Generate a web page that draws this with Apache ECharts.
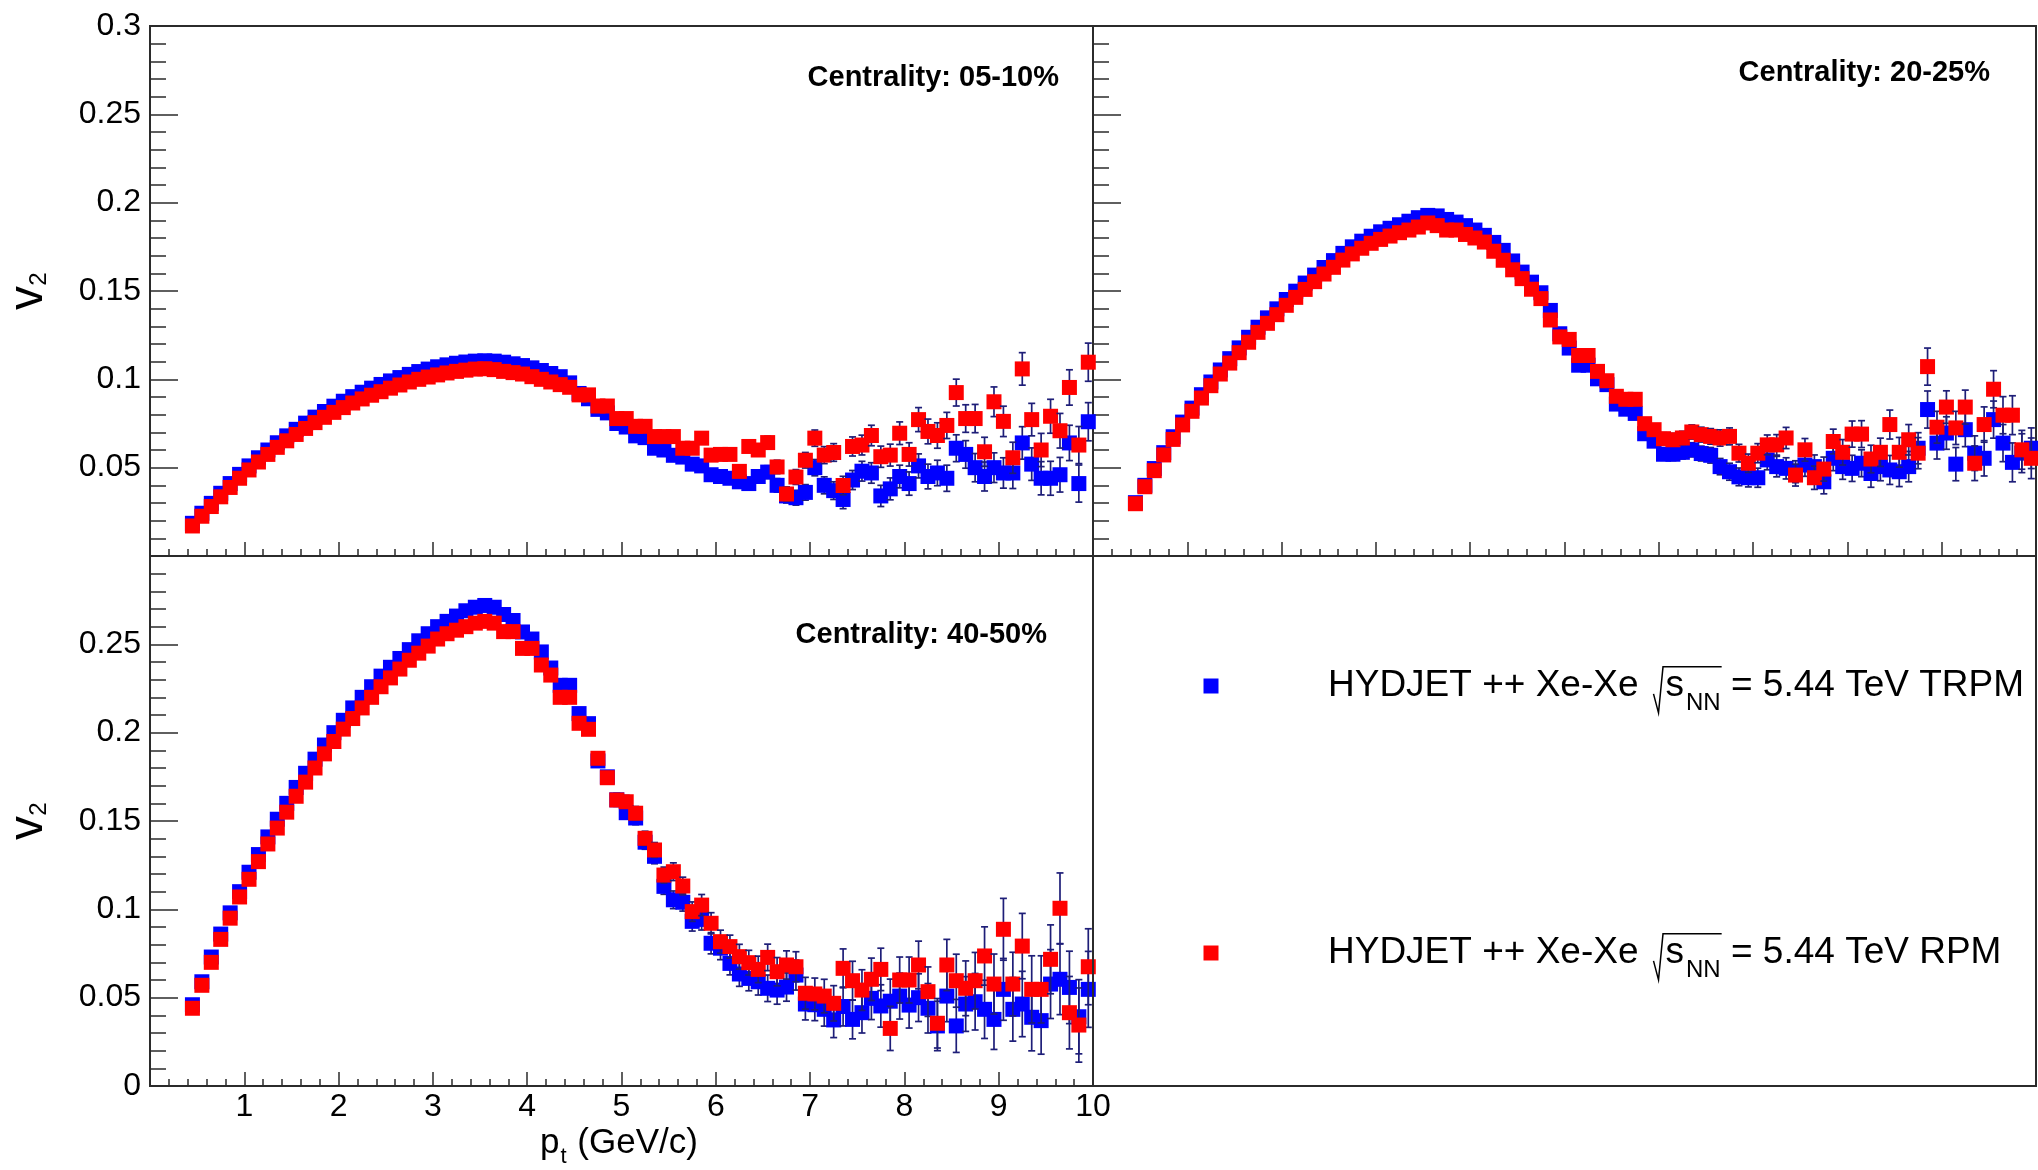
<!DOCTYPE html>
<html>
<head>
<meta charset="utf-8">
<script src="https://cdn.jsdelivr.net/npm/echarts/dist/echarts.min.js"></script>
<style>
  html, body { margin: 0; padding: 0; background: #ffffff; }
  #chart { width: 2038px; height: 1170px; }
</style>
</head>
<body>
<div id="chart"></div>
<script>
// pT bin centres (GeV/c)
const pt = [
  0.45, 0.55, 0.65, 0.75, 0.85, 0.95, 1.05, 1.15, 1.25, 1.35,
  1.45, 1.55, 1.65, 1.75, 1.85, 1.95, 2.05, 2.15, 2.25, 2.35,
  2.45, 2.55, 2.65, 2.75, 2.85, 2.95, 3.05, 3.15, 3.25, 3.35,
  3.45, 3.55, 3.65, 3.75, 3.85, 3.95, 4.05, 4.15, 4.25, 4.35,
  4.45, 4.55, 4.65, 4.75, 4.85, 4.95, 5.05, 5.15, 5.25, 5.35,
  5.45, 5.55, 5.65, 5.75, 5.85, 5.95, 6.05, 6.15, 6.25, 6.35,
  6.45, 6.55, 6.65, 6.75, 6.85, 6.95, 7.05, 7.15, 7.25, 7.35,
  7.45, 7.55, 7.65, 7.75, 7.85, 7.95, 8.05, 8.15, 8.25, 8.35,
  8.45, 8.55, 8.65, 8.75, 8.85, 8.95, 9.05, 9.15, 9.25, 9.35,
  9.45, 9.55, 9.65, 9.75, 9.85, 9.95
];

// Centrality 05-10%
const v2_c0510_trpm = [
  0.0185, 0.0242, 0.0298, 0.0355, 0.0410, 0.0462, 0.0510, 0.0556, 0.0600, 0.0641,
  0.0680, 0.0717, 0.0752, 0.0786, 0.0818, 0.0848, 0.0876, 0.0902, 0.0927, 0.0950,
  0.0971, 0.0991, 0.1010, 0.1028, 0.1044, 0.1058, 0.1071, 0.1082, 0.1091, 0.1098,
  0.1103, 0.1105, 0.1103, 0.1097, 0.1088, 0.1078, 0.1065, 0.1050, 0.1033, 0.1015,
  0.0980, 0.0920, 0.0890, 0.0830, 0.0810, 0.0750, 0.0730, 0.0680, 0.0670, 0.0610,
  0.0600, 0.0570, 0.0560, 0.0520, 0.0510, 0.0460, 0.0450, 0.0440, 0.0420, 0.0410,
  0.0450, 0.0475, 0.0400, 0.0340, 0.0330, 0.0360, 0.0500, 0.0400, 0.0370, 0.0320,
  0.0430, 0.0480, 0.0470, 0.0340, 0.0380, 0.0450, 0.0410, 0.0510, 0.0450, 0.0470,
  0.0440, 0.0610, 0.0575, 0.0500, 0.0450, 0.0500, 0.0470, 0.0470, 0.0640, 0.0520,
  0.0440, 0.0440, 0.0460, 0.0640, 0.0410, 0.0760
];
const v2_c0510_rpm = [
  0.0170, 0.0225, 0.0280, 0.0335, 0.0388, 0.0440, 0.0487, 0.0532, 0.0575, 0.0615,
  0.0652, 0.0688, 0.0722, 0.0755, 0.0785, 0.0813, 0.0840, 0.0866, 0.0889, 0.0910,
  0.0930, 0.0950, 0.0968, 0.0985, 0.1000, 0.1013, 0.1025, 0.1036, 0.1045, 0.1052,
  0.1058, 0.1060, 0.1055, 0.1045, 0.1038, 0.1030, 0.1015, 0.1000, 0.0985, 0.0970,
  0.0955, 0.0912, 0.0912, 0.0849, 0.0849, 0.0778, 0.0778, 0.0734, 0.0734, 0.0676,
  0.0676, 0.0676, 0.0610, 0.0610, 0.0667, 0.0571, 0.0575, 0.0575, 0.0479, 0.0620,
  0.0600, 0.0642, 0.0504, 0.0351, 0.0447, 0.0542, 0.0667, 0.0571, 0.0586, 0.0399,
  0.0620, 0.0628, 0.0682, 0.0562, 0.0571, 0.0695, 0.0575, 0.0772, 0.0705, 0.0682,
  0.0739, 0.0925, 0.0778, 0.0778, 0.0590, 0.0873, 0.0762, 0.0556, 0.1059, 0.0772,
  0.0600, 0.0791, 0.0709, 0.0954, 0.0628, 0.1097
];
const err_c0510 = [
  0.0006, 0.0006, 0.0006, 0.0006, 0.0006, 0.0006, 0.0006, 0.0006, 0.0006, 0.0006,
  0.0008, 0.0008, 0.0008, 0.0008, 0.0008, 0.0008, 0.0008, 0.0008, 0.0008, 0.0008,
  0.0010, 0.0010, 0.0010, 0.0010, 0.0010, 0.0010, 0.0010, 0.0010, 0.0010, 0.0010,
  0.0012, 0.0012, 0.0012, 0.0012, 0.0012, 0.0012, 0.0012, 0.0012, 0.0012, 0.0012,
  0.0016, 0.0016, 0.0016, 0.0016, 0.0016, 0.0016, 0.0016, 0.0016, 0.0016, 0.0016,
  0.0020, 0.0020, 0.0022, 0.0022, 0.0024, 0.0024, 0.0026, 0.0028, 0.0030, 0.0032,
  0.0034, 0.0036, 0.0038, 0.0040, 0.0042, 0.0044, 0.0046, 0.0048, 0.0050, 0.0052,
  0.0054, 0.0056, 0.0058, 0.0060, 0.0062, 0.0064, 0.0066, 0.0068, 0.0070, 0.0072,
  0.0074, 0.0076, 0.0078, 0.0080, 0.0082, 0.0084, 0.0086, 0.0088, 0.0092, 0.0092,
  0.0094, 0.0096, 0.0098, 0.0100, 0.0105, 0.0108
];

// Centrality 20-25%
const v2_c2025_trpm = [
  0.0302, 0.0400, 0.0495, 0.0585, 0.0675, 0.0758, 0.0837, 0.0913, 0.0985, 0.1053,
  0.1117, 0.1178, 0.1238, 0.1295, 0.1348, 0.1399, 0.1452, 0.1499, 0.1545, 0.1590,
  0.1633, 0.1672, 0.1713, 0.1750, 0.1782, 0.1810, 0.1835, 0.1855, 0.1875, 0.1895,
  0.1915, 0.1928, 0.1925, 0.1905, 0.1890, 0.1870, 0.1845, 0.1815, 0.1775, 0.1730,
  0.1670, 0.1607, 0.1550, 0.1490, 0.1390, 0.1258, 0.1177, 0.1080, 0.1080, 0.1003,
  0.0970, 0.0860, 0.0831, 0.0807, 0.0692, 0.0650, 0.0576, 0.0576, 0.0587, 0.0601,
  0.0580, 0.0570, 0.0506, 0.0477, 0.0448, 0.0443, 0.0443, 0.0544, 0.0506, 0.0496,
  0.0477, 0.0515, 0.0506, 0.0420, 0.0553, 0.0506, 0.0496, 0.0525, 0.0467, 0.0506,
  0.0487, 0.0477, 0.0506, 0.0610, 0.0829, 0.0639, 0.0696, 0.0520, 0.0715, 0.0582,
  0.0553, 0.0772, 0.0639, 0.0530, 0.0582, 0.0610
];
const v2_c2025_rpm = [
  0.0296, 0.0392, 0.0483, 0.0572, 0.0660, 0.0742, 0.0819, 0.0894, 0.0964, 0.1030,
  0.1092, 0.1151, 0.1210, 0.1266, 0.1317, 0.1366, 0.1419, 0.1464, 0.1509, 0.1553,
  0.1596, 0.1634, 0.1675, 0.1710, 0.1742, 0.1770, 0.1792, 0.1811, 0.1830, 0.1845,
  0.1862, 0.1885, 0.1870, 0.1845, 0.1845, 0.1820, 0.1800, 0.1777, 0.1725, 0.1674,
  0.1620, 0.1570, 0.1510, 0.1457, 0.1336, 0.1240, 0.1226, 0.1135, 0.1135, 0.1045,
  0.0992, 0.0904, 0.0887, 0.0887, 0.0749, 0.0715, 0.0664, 0.0658, 0.0668, 0.0702,
  0.0687, 0.0677, 0.0668, 0.0677, 0.0582, 0.0525, 0.0582, 0.0629, 0.0629, 0.0668,
  0.0458, 0.0601, 0.0443, 0.0492, 0.0648, 0.0587, 0.0690, 0.0690, 0.0549, 0.0587,
  0.0744, 0.0587, 0.0658, 0.0582, 0.1072, 0.0729, 0.0843, 0.0725, 0.0843, 0.0525,
  0.0744, 0.0944, 0.0797, 0.0797, 0.0601, 0.0553
];
const err_c2025 = [
  0.0006, 0.0006, 0.0006, 0.0006, 0.0006, 0.0006, 0.0006, 0.0006, 0.0006, 0.0006,
  0.0008, 0.0008, 0.0008, 0.0008, 0.0008, 0.0008, 0.0008, 0.0008, 0.0008, 0.0008,
  0.0010, 0.0010, 0.0010, 0.0010, 0.0010, 0.0010, 0.0010, 0.0010, 0.0010, 0.0010,
  0.0012, 0.0012, 0.0012, 0.0012, 0.0012, 0.0012, 0.0012, 0.0012, 0.0012, 0.0012,
  0.0016, 0.0016, 0.0016, 0.0016, 0.0018, 0.0018, 0.0018, 0.0020, 0.0020, 0.0020,
  0.0024, 0.0024, 0.0026, 0.0028, 0.0030, 0.0032, 0.0034, 0.0036, 0.0038, 0.0040,
  0.0042, 0.0044, 0.0046, 0.0048, 0.0050, 0.0052, 0.0054, 0.0056, 0.0058, 0.0060,
  0.0062, 0.0064, 0.0066, 0.0068, 0.0070, 0.0072, 0.0074, 0.0076, 0.0078, 0.0080,
  0.0082, 0.0084, 0.0086, 0.0088, 0.0105, 0.0090, 0.0092, 0.0094, 0.0096, 0.0098,
  0.0100, 0.0105, 0.0105, 0.0110, 0.0110, 0.0115
];

// Centrality 40-50%
const v2_c4050_trpm = [
  0.0460, 0.0590, 0.0730, 0.0860, 0.0980, 0.1100, 0.1210, 0.1310, 0.1410, 0.1510,
  0.1600, 0.1690, 0.1770, 0.1850, 0.1930, 0.2000, 0.2070, 0.2140, 0.2200, 0.2260,
  0.2320, 0.2370, 0.2420, 0.2470, 0.2520, 0.2560, 0.2600, 0.2630, 0.2660, 0.2690,
  0.2710, 0.2720, 0.2710, 0.2669, 0.2635, 0.2570, 0.2530, 0.2457, 0.2366, 0.2268,
  0.2268, 0.2108, 0.2051, 0.1840, 0.1750, 0.1620, 0.1547, 0.1517, 0.1380, 0.1300,
  0.1130, 0.1054, 0.1040, 0.0932, 0.0943, 0.0808, 0.0780, 0.0694, 0.0634, 0.0609,
  0.0590, 0.0553, 0.0543, 0.0560, 0.0628, 0.0464, 0.0460, 0.0434, 0.0374, 0.0450,
  0.0377, 0.0415, 0.0496, 0.0453, 0.0480, 0.0509, 0.0458, 0.0500, 0.0440, 0.0340,
  0.0509, 0.0340, 0.0464, 0.0477, 0.0434, 0.0377, 0.0547, 0.0434, 0.0464, 0.0389,
  0.0370, 0.0577, 0.0604, 0.0558, 0.0392, 0.0547
];
const v2_c4050_rpm = [
  0.0440, 0.0570, 0.0700, 0.0830, 0.0950, 0.1070, 0.1170, 0.1270, 0.1370, 0.1460,
  0.1550, 0.1640, 0.1720, 0.1800, 0.1880, 0.1950, 0.2020, 0.2080, 0.2140, 0.2200,
  0.2260, 0.2310, 0.2360, 0.2410, 0.2450, 0.2490, 0.2530, 0.2560, 0.2580, 0.2600,
  0.2620, 0.2630, 0.2620, 0.2572, 0.2572, 0.2477, 0.2477, 0.2383, 0.2326, 0.2200,
  0.2200, 0.2053, 0.2019, 0.1855, 0.1745, 0.1619, 0.1609, 0.1544, 0.1402, 0.1336,
  0.1194, 0.1213, 0.1132, 0.0987, 0.1024, 0.0921, 0.0817, 0.0789, 0.0732, 0.0698,
  0.0660, 0.0728, 0.0647, 0.0685, 0.0675, 0.0525, 0.0521, 0.0509, 0.0468, 0.0666,
  0.0596, 0.0543, 0.0604, 0.0660, 0.0326, 0.0600, 0.0600, 0.0685, 0.0534, 0.0355,
  0.0685, 0.0596, 0.0553, 0.0596, 0.0736, 0.0577, 0.0887, 0.0577, 0.0792, 0.0547,
  0.0547, 0.0717, 0.1006, 0.0415, 0.0345, 0.0675
];
const err_c4050 = [
  0.0010, 0.0010, 0.0010, 0.0010, 0.0010, 0.0010, 0.0010, 0.0010, 0.0010, 0.0010,
  0.0012, 0.0012, 0.0012, 0.0012, 0.0012, 0.0012, 0.0012, 0.0012, 0.0012, 0.0012,
  0.0015, 0.0015, 0.0015, 0.0015, 0.0015, 0.0015, 0.0015, 0.0015, 0.0015, 0.0015,
  0.0020, 0.0020, 0.0020, 0.0020, 0.0020, 0.0022, 0.0024, 0.0026, 0.0028, 0.0030,
  0.0030, 0.0032, 0.0032, 0.0034, 0.0034, 0.0036, 0.0036, 0.0038, 0.0040, 0.0042,
  0.0045, 0.0050, 0.0050, 0.0055, 0.0060, 0.0060, 0.0065, 0.0065, 0.0070, 0.0070,
  0.0075, 0.0075, 0.0080, 0.0080, 0.0085, 0.0090, 0.0090, 0.0095, 0.0100, 0.0110,
  0.0110, 0.0115, 0.0120, 0.0120, 0.0125, 0.0130, 0.0130, 0.0135, 0.0140, 0.0140,
  0.0145, 0.0150, 0.0155, 0.0160, 0.0165, 0.0170, 0.0175, 0.0180, 0.0185, 0.0190,
  0.0190, 0.0195, 0.0200, 0.0205, 0.0210, 0.0215
];

const xTickLabels = ['', '1', '2', '3', '4', '5', '6', '7', '8', '9', '10'];
const centralityLabels = ['Centrality: 05-10%', 'Centrality: 20-25%', 'Centrality: 40-50%'];
const legendPrefix = 'HYDJET ++ Xe-Xe';
const legendSuffixes = [' = 5.44 TeV TRPM', ' = 5.44 TeV RPM'];

// ---------------------------------------------------------------
const FONT = '"Liberation Sans", Arial, Helvetica, sans-serif';
const AX = '#2b2b2b';
const BLUE = '#0000ff';
const RED = '#ff0000';
const ERR = '#1e1e78';
const MARK = 15;

const measureCtx = document.createElement('canvas').getContext('2d');
function textWidth(str, size, weight) {
  measureCtx.font = (weight || 'normal') + ' ' + size + 'px ' + FONT;
  return measureCtx.measureText(str).width;
}

// pads: [left, top, width, height]
const pads = [
  [150, 26, 943, 530],
  [1093, 26, 943, 530],
  [150, 556, 943, 530]
];

function fmtY(v) { return String(+v.toFixed(2)); }

function xAxisFor(gi, showLabels) {
  return {
    type: 'value', gridIndex: gi, min: 0, max: 10, interval: 1,
    axisLine: { show: false }, splitLine: { show: false },
    axisTick: { show: true, inside: true, length: 14, lineStyle: { color: AX, width: 1.5 } },
    minorTick: { show: true, splitNumber: 5, length: 7, lineStyle: { color: AX, width: 1.5 } },
    axisLabel: {
      show: showLabels, margin: 5, fontSize: 32, fontFamily: FONT, color: '#000',
      showMinLabel: true, showMaxLabel: true,
      formatter: function (v) { return xTickLabels[Math.round(v)] || ''; }
    }
  };
}
function yAxisFor(gi, showLabels, hideTop) {
  return {
    type: 'value', gridIndex: gi, min: 0, max: 0.3, interval: 0.05,
    axisLine: { show: false }, splitLine: { show: false },
    axisTick: { show: true, inside: true, length: 28, lineStyle: { color: AX, width: 1.5 } },
    minorTick: { show: true, splitNumber: 5, length: 16, lineStyle: { color: AX, width: 1.5 } },
    axisLabel: {
      show: showLabels, margin: 9, fontSize: 32, fontFamily: FONT, color: '#000',
      showMinLabel: true, showMaxLabel: true,
      formatter: function (v) {
        if (!hideTop && v < 1e-9) return '';
        if (hideTop && v > 0.3 - 1e-9) return '';
        return fmtY(v);
      }
    }
  };
}

function pointsRenderer(color) {
  return function (params, api) {
    const x = api.value(0), y = api.value(1), e = api.value(2);
    const c = api.coord([x, y]);
    const hi = api.coord([x, y + e]);
    const lo = api.coord([x, y - e]);
    const cap = 3.5;
    return {
      type: 'group',
      children: [
        { type: 'line', shape: { x1: c[0], y1: hi[1], x2: c[0], y2: lo[1] }, style: { stroke: ERR, lineWidth: 1.7 } },
        { type: 'line', shape: { x1: c[0] - cap, y1: hi[1], x2: c[0] + cap, y2: hi[1] }, style: { stroke: ERR, lineWidth: 1.7 } },
        { type: 'line', shape: { x1: c[0] - cap, y1: lo[1], x2: c[0] + cap, y2: lo[1] }, style: { stroke: ERR, lineWidth: 1.7 } },
        { type: 'rect', shape: { x: c[0] - MARK / 2, y: c[1] - MARK / 2, width: MARK, height: MARK }, style: { fill: color } }
      ]
    };
  };
}

function seriesFor(gi, values, errors, color, name) {
  return {
    type: 'custom', name: name, xAxisIndex: gi, yAxisIndex: gi, clip: false,
    renderItem: pointsRenderer(color),
    encode: { x: 0, y: 1 },
    data: pt.map(function (p, i) { return [p, values[i], errors[i]]; }),
    z: color === RED ? 3 : 2
  };
}

// ---------------- titles, labels, legend -----------------------
const graphics = [];

// legend pad frame
graphics.push({
  type: 'rect', shape: { x: 1093, y: 556, width: 943, height: 530 },
  style: { fill: 'none', stroke: AX, lineWidth: 2 }, z: 10
});

// centrality captions
[[1059, 78], [1990, 73], [1047, 635]].forEach(function (pos, i) {
  graphics.push({
    type: 'text', x: pos[0], y: pos[1], z: 10,
    style: { text: centralityLabels[i], font: 'bold 29px ' + FONT, fill: '#000', align: 'right', verticalAlign: 'middle' }
  });
});

// v2 axis titles (rotated)
[291, 821].forEach(function (yc) {
  graphics.push({
    type: 'group', x: 29, y: yc, rotation: Math.PI / 2, z: 10,
    children: [
      { type: 'text', x: -7, y: 0, style: { text: 'v', font: '48px ' + FONT, fill: '#000', align: 'center', verticalAlign: 'middle' } },
      { type: 'text', x: 12, y: 10, style: { text: '2', font: '24px ' + FONT, fill: '#000', align: 'center', verticalAlign: 'middle' } }
    ]
  });
});

// pT axis title
(function () {
  const x0 = 540, yMid = 1143, size = 35, sub = 22;
  const wp = textWidth('p', size);
  const wt = textWidth('t', sub);
  graphics.push({ type: 'text', x: x0, y: yMid, z: 10, style: { text: 'p', font: size + 'px ' + FONT, fill: '#000', align: 'left', verticalAlign: 'middle' } });
  graphics.push({ type: 'text', x: x0 + wp + 1, y: yMid + 14, z: 10, style: { text: 't', font: sub + 'px ' + FONT, fill: '#000', align: 'left', verticalAlign: 'middle' } });
  graphics.push({ type: 'text', x: x0 + wp + wt + 2, y: yMid, z: 10, style: { text: ' (GeV/c)', font: size + 'px ' + FONT, fill: '#000', align: 'left', verticalAlign: 'middle' } });
})();

// legend rows
function legendRow(color, suffix, yc) {
  const size = 37, sub = 24;
  const base = yc + 0.3465 * size;
  const x0 = 1328;
  graphics.push({ type: 'rect', z: 10, shape: { x: 1211 - MARK / 2, y: yc - MARK / 2, width: MARK, height: MARK }, style: { fill: color } });
  graphics.push({ type: 'text', x: x0, y: yc, z: 10, style: { text: legendPrefix, font: size + 'px ' + FONT, fill: '#000', align: 'left', verticalAlign: 'middle' } });
  const rx = x0 + textWidth(legendPrefix, size) + 15;
  const sx = rx + 12;
  const nnx = sx + textWidth('s', size) + 2;
  const nnEnd = nnx + textWidth('NN', sub);
  graphics.push({ type: 'text', x: sx, y: yc, z: 10, style: { text: 's', font: size + 'px ' + FONT, fill: '#000', align: 'left', verticalAlign: 'middle' } });
  graphics.push({ type: 'text', x: nnx, y: base + 13 - 0.3465 * sub, z: 10, style: { text: 'NN', font: sub + 'px ' + FONT, fill: '#000', align: 'left', verticalAlign: 'middle' } });
  graphics.push({
    type: 'polyline', z: 10,
    shape: { points: [[rx, base - 5], [rx + 5, base + 14], [rx + 9.5, base - 32], [nnEnd + 1, base - 32]] },
    style: { stroke: '#000', lineWidth: 1.5, fill: 'none' }
  });
  graphics.push({ type: 'text', x: nnEnd, y: yc, z: 10, style: { text: suffix, font: size + 'px ' + FONT, fill: '#000', align: 'left', verticalAlign: 'middle' } });
}
legendRow(BLUE, legendSuffixes[0], 686);
legendRow(RED, legendSuffixes[1], 953);

// ---------------------------------------------------------------
const chart = echarts.init(document.getElementById('chart'), null, { renderer: 'canvas', width: 2038, height: 1170 });
chart.setOption({
  animation: false,
  backgroundColor: '#ffffff',
  grid: pads.map(function (p) {
    return { left: p[0], top: p[1], width: p[2], height: p[3], show: true, borderColor: AX, borderWidth: 2, backgroundColor: 'transparent', containLabel: false };
  }),
  xAxis: [xAxisFor(0, false), xAxisFor(1, false), xAxisFor(2, true)],
  yAxis: [yAxisFor(0, true, false), yAxisFor(1, false, false), yAxisFor(2, true, true)],
  series: [
    seriesFor(0, v2_c0510_trpm, err_c0510, BLUE, 'TRPM 05-10%'),
    seriesFor(0, v2_c0510_rpm, err_c0510, RED, 'RPM 05-10%'),
    seriesFor(1, v2_c2025_trpm, err_c2025, BLUE, 'TRPM 20-25%'),
    seriesFor(1, v2_c2025_rpm, err_c2025, RED, 'RPM 20-25%'),
    seriesFor(2, v2_c4050_trpm, err_c4050, BLUE, 'TRPM 40-50%'),
    seriesFor(2, v2_c4050_rpm, err_c4050, RED, 'RPM 40-50%')
  ],
  graphic: graphics
});
</script>
</body>
</html>
